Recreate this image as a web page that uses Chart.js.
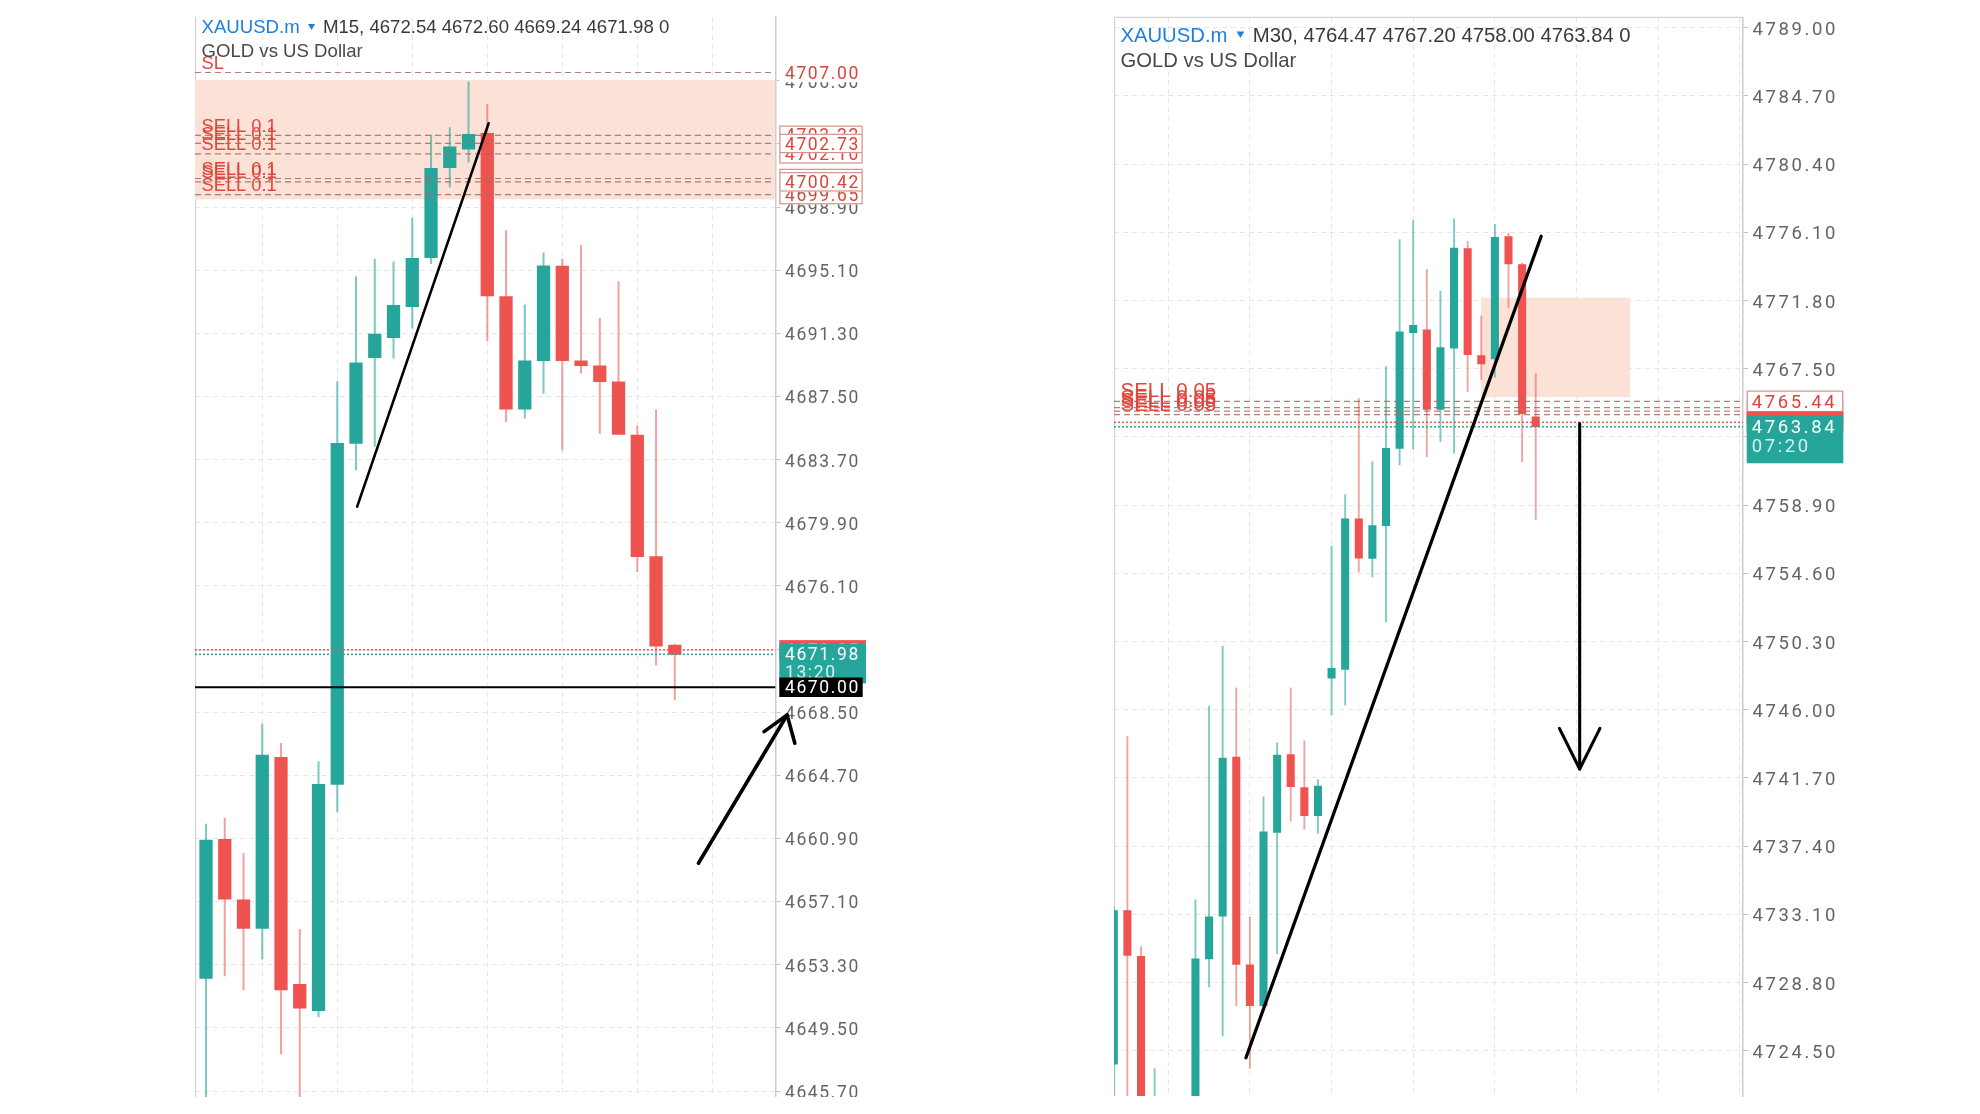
<!DOCTYPE html>
<html lang="en">
<head>
<meta charset="utf-8">
<title>XAUUSD.m M15 / M30</title>
<script src="https://cdn.jsdelivr.net/npm/chart.js@4.4.1/dist/chart.umd.min.js"></script>
<style>
  html, body { margin: 0; padding: 0; background: #ffffff; }
  body { position: relative; width: 1980px; height: 1114px; overflow: hidden; }
  canvas { position: absolute; top: 0; }
  #chartM15 { left: 0; }
  #chartM30 { left: 990px; }
</style>
</head>
<body>
<canvas id="chartM15" width="990" height="1097"></canvas>
<canvas id="chartM30" width="990" height="1097"></canvas>
<script>
// 1. DATA - XAUUSD.m M15 (left panel)
const m15Open  = [4652.48, 4660.85, 4657.20, 4655.49, 4665.78, 4652.12, 4650.53, 4664.16, 4684.68, 4689.83, 4691.04, 4692.90, 4695.85, 4701.27, 4702.39, 4703.34, 4693.51, 4686.73, 4689.65, 4695.35, 4689.64, 4689.35, 4688.39, 4685.18, 4677.86, 4672.54];
const m15High  = [4661.77, 4662.11, 4660.01, 4667.79, 4666.63, 4655.43, 4665.52, 4688.39, 4694.71, 4695.77, 4695.61, 4698.22, 4703.24, 4703.68, 4706.44, 4705.08, 4697.48, 4693.01, 4696.15, 4695.77, 4696.62, 4692.21, 4694.41, 4685.72, 4686.69, 4672.60];
const m15Low   = [4645.00, 4652.62, 4651.78, 4653.63, 4647.93, 4645.20, 4650.17, 4662.51, 4683.08, 4684.50, 4689.80, 4691.60, 4695.50, 4700.10, 4701.60, 4690.86, 4685.98, 4686.19, 4687.69, 4684.28, 4688.90, 4685.28, 4685.22, 4676.96, 4671.34, 4669.24];
const m15Close = [4660.81, 4657.24, 4655.49, 4665.92, 4651.78, 4650.68, 4664.16, 4684.68, 4689.53, 4691.26, 4692.99, 4695.82, 4701.23, 4702.53, 4703.28, 4693.55, 4686.73, 4689.65, 4695.37, 4689.65, 4689.35, 4688.39, 4685.22, 4677.86, 4672.48, 4671.98];
const m15YTicks = [4645.70, 4649.50, 4653.30, 4657.10, 4660.90, 4664.70, 4668.50, 4672.30, 4676.10, 4679.90, 4683.70, 4687.50, 4691.30, 4695.10, 4698.90, 4702.70, 4706.50];
const m15XGrid = [1, 5, 9, 13, 17, 21, 25, 29];
const m15Stop = 4707.00;
const m15Sells = [4703.22, 4702.73, 4702.10, 4700.62, 4700.42, 4699.65];
const m15SellTagOrder = [4703.22, 4702.10, 4702.73, 4700.62, 4699.65, 4700.42];
const m15Zone = [4706.55, 4699.37];
const m15Ask = 4672.25;
const m15Bid = 4671.98;
const m15Level = 4670.00;
const m15Timer = '13:20';
const m15Trend = [[8.06, 4680.87], [15.07, 4703.94]];
const m15ArrowShaft = [[26.26, 4659.41], [30.99, 4668.33]];
// punta de flecha: orden no creciente en x para que Chart.js no recorte puntos
const m15ArrowHead = [[31.40, 4666.63], [30.99, 4668.33], [29.76, 4667.33]];

// 2. DATA - XAUUSD.m M30 (right panel)
const m30Open  = [4723.64, 4733.33, 4730.45, 4712.00, 4719.00, 4714.00, 4718.50, 4730.28, 4732.98, 4743.01, 4729.90, 4727.33, 4738.26, 4743.17, 4741.09, 4739.32, 4747.99, 4748.53, 4758.03, 4755.53, 4757.61, 4762.48, 4769.78, 4769.96, 4764.94, 4768.79, 4775.07, 4768.33, 4768.12, 4775.84, 4774.07, 4764.47];
const m30High  = [4733.60, 4744.30, 4731.06, 4723.37, 4720.50, 4720.00, 4734.01, 4746.23, 4750.01, 4747.37, 4732.94, 4740.50, 4743.91, 4747.37, 4744.03, 4741.59, 4756.32, 4759.56, 4765.61, 4761.64, 4767.63, 4775.64, 4776.85, 4773.76, 4772.40, 4776.95, 4775.53, 4770.83, 4776.61, 4776.05, 4774.17, 4767.20];
const m30Low   = [4721.00, 4718.00, 4715.00, 4710.00, 4712.00, 4711.50, 4717.00, 4728.51, 4725.42, 4727.33, 4723.37, 4727.00, 4730.61, 4738.98, 4738.47, 4738.19, 4745.66, 4746.29, 4754.68, 4754.37, 4751.54, 4761.44, 4762.44, 4761.96, 4762.90, 4762.17, 4766.07, 4766.82, 4766.97, 4771.35, 4761.64, 4758.00];
const m30Close = [4733.33, 4730.50, 4717.00, 4719.00, 4714.00, 4718.50, 4730.28, 4732.94, 4742.95, 4729.93, 4727.33, 4738.30, 4743.13, 4741.14, 4739.32, 4741.18, 4748.60, 4758.03, 4755.55, 4757.61, 4762.48, 4769.83, 4770.24, 4764.94, 4768.84, 4775.11, 4768.39, 4767.80, 4775.78, 4774.11, 4764.67, 4763.84];
const m30YTicks = [4724.50, 4728.80, 4733.10, 4737.40, 4741.70, 4746.00, 4750.30, 4754.60, 4758.90, 4763.20, 4767.50, 4771.80, 4776.10, 4780.40, 4784.70, 4789.00];
const m30XGrid = [1, 7, 13, 19, 25, 31, 37, 43];
const m30Sells = [4765.44, 4765.05, 4764.82, 4764.60];
const m30SellTagOrder = [4764.60, 4764.82, 4765.05, 4765.44];
const m30Zone = [4771.98, 4765.72];
const m30ZoneX = [26.98, 37.95];
const m30Ask = 4764.12;
const m30Bid = 4763.84;
const m30Timer = '07:20';
const m30Trend = [[9.71, 4724.05], [31.40, 4775.85]];
const m30ArrowShaft = [[34.23, 4764.05], [34.23, 4742.26]];
const m30ArrowHead = [[35.72, 4744.82], [34.23, 4742.26], [32.74, 4744.82]];

const GREEN = '#26a69a';
const RED = '#ef5350';
const GREEN_WICK = 'rgba(38,166,154,0.6)';
const RED_WICK = 'rgba(226,90,86,0.55)';
const LEVEL_RED = '#e0463d';
const SANS = '"Liberation Sans", Arial, sans-serif';
const TEXT_DROP = 2.5; // las cifras del eje quedan un poco por debajo de la linea

function drawText(ctx, str, x, y, font, color, spacing, baseline) {
    ctx.save();
    ctx.font = font;
    ctx.fillStyle = color;
    ctx.letterSpacing = spacing;
    ctx.textAlign = 'left';
    ctx.textBaseline = baseline;
    ctx.fillText(str, x, y);
    ctx.restore();
}

// 3. PLUGIN: marco, etiquetas SELL/SL, precios del eje y cabecera
function overlay(s) {
    return {
        id: 'overlay',
        beforeDraw(chart) {
            chart.ctx.letterSpacing = s.tickSpacing + 'px';
        },
        beforeDatasetsDraw(chart) {
            const { ctx, chartArea: a } = chart;
            ctx.save();
            ctx.strokeStyle = '#d4d4d4';
            ctx.lineWidth = 1.2;
            ctx.beginPath();
            ctx.moveTo(a.left + 0.6, a.bottom);
            ctx.lineTo(a.left + 0.6, a.top);
            if (s.boxTop) ctx.lineTo(a.right, a.top);
            ctx.stroke();
            ctx.restore();
        },
        afterDatasetsDraw(chart) {
            const { ctx, chartArea: a, scales: { y } } = chart;
            const font = `${s.levelSize}px ${SANS}`;
            s.levelTexts.forEach(t => {
                drawText(ctx, t.text, a.left + s.levelDx, y.getPixelForValue(t.v) - s.levelLift, font, LEVEL_RED, '0px', 'alphabetic');
            });
        },
        afterDraw(chart) {
            const { ctx, chartArea: a, scales: { y } } = chart;
            const tagFont = `${s.tickSize}px Roboto, sans-serif`;
            const spacing = s.tickSpacing + 'px';

            s.tags.forEach(t => {
                const yy = y.getPixelForValue(t.v);
                const x0 = a.right + s.tagGap;
                let top = yy - s.tagH / 2, h = s.tagH, w = s.tagW;
                if (t.kind === 'teal') { top = yy - s.tealTop; h = s.tealH; w = s.tealW; }
                if (t.kind === 'ask') { w = s.tealW; }
                const fill = { plain: '#ffffff', outline: '#ffffff', ask: RED, teal: GREEN, black: '#000000' }[t.kind];
                ctx.save();
                ctx.fillStyle = fill;
                ctx.fillRect(x0, top, w, h);
                if (t.kind === 'outline') {
                    ctx.strokeStyle = '#d9908a';
                    ctx.lineWidth = 1.2;
                    ctx.strokeRect(x0 + 0.6, top + 0.6, w - 1.2, h - 1.2);
                }
                ctx.restore();
                const color = (t.kind === 'plain' || t.kind === 'outline') ? '#d8453c' : '#ffffff';
                drawText(ctx, t.v.toFixed(2), x0 + s.tagTextDx, yy + TEXT_DROP * 0.7, tagFont, color, spacing, 'middle');
                if (t.sub) drawText(ctx, t.sub, x0 + s.tagTextDx, yy + s.subDy, tagFont, '#d8f1ed', spacing, 'middle');
            });

            // cabecera
            const hFont = `${s.headSize}px ${SANS}`;
            const hx = a.left + s.headDx;
            drawText(ctx, s.symbol, hx, s.headY1, hFont, '#1f7fe0', '0px', 'alphabetic');
            ctx.save();
            ctx.font = hFont;
            ctx.letterSpacing = '0px';
            const symW = ctx.measureText(s.symbol).width;
            ctx.restore();
            const tx = hx + symW + s.headSize * 0.45;
            const tw = s.headSize * 0.38;
            const ty = s.headY1 - s.headSize * 0.5;
            ctx.save();
            ctx.fillStyle = '#1f7fe0';
            ctx.beginPath();
            ctx.moveTo(tx, ty);
            ctx.lineTo(tx + tw, ty);
            ctx.lineTo(tx + tw / 2, ty + tw * 0.85);
            ctx.closePath();
            ctx.fill();
            ctx.restore();
            drawText(ctx, s.quote, tx + tw + s.headSize * 0.42, s.headY1, hFont, '#3a3a3a', '0px', 'alphabetic');
            drawText(ctx, s.subtitle, hx, s.headY2, hFont, '#4a4a4a', '0px', 'alphabetic');
        }
    };
}

// 4. CONSTRUCCION DE CADA GRAFICO
function buildChart(id, s) {
    const idx = s.open.map((_, i) => i);
    const up = idx.map(i => s.close[i] >= s.open[i]);
    const pts = arr => arr.map(p => ({ x: p[0], y: p[1] }));
    const hLine = (v, color, width, dash, order) => ({
        type: 'line',
        data: [{ x: s.xMin, y: v }, { x: s.xMax, y: v }],
        borderColor: color, borderWidth: width, borderDash: dash,
        pointRadius: 0, order: order, clip: 0
    });
    const pen = (arr, w) => ({
        type: 'line', data: pts(arr), borderColor: '#000', borderWidth: w,
        borderCapStyle: 'round', borderJoinStyle: 'round', pointRadius: 0, order: 0, clip: false
    });

    const datasets = [];
    // zona sombreada
    datasets.push({
        type: 'line',
        data: [{ x: s.zoneX[0], y: s.zone[0] }, { x: s.zoneX[1], y: s.zone[0] }],
        fill: { value: s.zone[1] },
        backgroundColor: '#fce1d6', borderWidth: 0, pointRadius: 0, order: 9, clip: 0
    });
    // mechas
    datasets.push({
        type: 'bar',
        data: idx.map(i => ({ x: i, y: [s.low[i], s.high[i]] })),
        backgroundColor: idx.map(i => up[i] ? GREEN_WICK : RED_WICK),
        barThickness: s.wickW, grouped: false, borderWidth: 0, order: 6, clip: 0
    });
    // cuerpos
    datasets.push({
        type: 'bar',
        data: idx.map(i => ({ x: i, y: [s.open[i], s.close[i]] })),
        backgroundColor: idx.map(i => up[i] ? GREEN : RED),
        barThickness: s.bodyW, minBarLength: 2, grouped: false, borderWidth: 0, order: 5, clip: 0
    });
    s.levels.forEach(v => datasets.push(hLine(v, 'rgba(165,105,100,0.85)', 1.2, [6, 4], 3)));
    datasets.push(hLine(s.ask, RED, 1.5, [2, 2], 2));
    datasets.push(hLine(s.bid, GREEN, 1.5, [2, 2], 2));
    if (s.level !== null) datasets.push(hLine(s.level, '#000000', 2, [], 1));
    datasets.push(pen(s.trend, s.trendW));
    datasets.push(pen(s.shaft, s.arrowW));
    datasets.push(pen(s.head, s.arrowW));

    return new Chart(document.getElementById(id), {
        type: 'bar',
        data: { datasets },
        options: {
            responsive: false,
            animation: false,
            devicePixelRatio: 1,
            layout: { padding: s.pad },
            plugins: { legend: { display: false }, tooltip: { enabled: false } },
            scales: {
                x: {
                    type: 'linear', min: s.xMin, max: s.xMax, offset: false,
                    afterBuildTicks: sc => { sc.ticks = s.xGrid.map(v => ({ value: v })); },
                    afterFit: sc => { sc.height = 0; sc.paddingLeft = 0; sc.paddingRight = 0; },
                    ticks: { display: false },
                    grid: { color: '#e6e6e6', lineWidth: 1, drawTicks: false },
                    border: { display: false, dash: [5, 4] }
                },
                y: {
                    type: 'linear', position: 'right', min: s.yMin, max: s.yMax,
                    afterBuildTicks: sc => { sc.ticks = s.yTicks.map(v => ({ value: v })); },
                    afterFit: sc => { sc.width = s.axisW; sc.paddingTop = 0; sc.paddingBottom = 0; },
                    ticks: {
                        autoSkip: false, padding: 4.5, color: '#646464', labelOffset: TEXT_DROP,
                        font: { family: 'Roboto', size: s.tickSize },
                        callback: v => Number(v).toFixed(2)
                    },
                    grid: { color: '#e6e6e6', lineWidth: 1, tickLength: 5, tickColor: '#c4c4c4', tickBorderDash: [] },
                    border: { display: true, color: '#cccccc', width: 1.5, dash: [5, 4] }
                }
            }
        },
        plugins: [overlay(s)]
    });
}

document.addEventListener('DOMContentLoaded', () => {
    buildChart('chartM15', {
        open: m15Open, high: m15High, low: m15Low, close: m15Close,
        yTicks: m15YTicks, xGrid: m15XGrid,
        xMin: -0.587, xMax: 30.37, yMin: 4645.34, yMax: 4710.34,
        pad: { left: 195, top: 17, right: 114.5, bottom: 0 }, axisW: 100,
        zone: m15Zone, zoneX: [-0.587, 30.37],
        levels: [m15Stop].concat(m15Sells),
        ask: m15Ask, bid: m15Bid, level: m15Level,
        trend: m15Trend, shaft: m15ArrowShaft, head: m15ArrowHead, trendW: 2.6, arrowW: 3.6,
        bodyW: 12.6, wickW: 1.4,
        tickSize: 17.5, tickSpacing: 1.6,
        tags: [{ v: m15Stop, kind: 'plain' }]
            .concat(m15SellTagOrder.map(v => ({ v, kind: 'outline' })))
            .concat([{ v: m15Ask, kind: 'ask' }, { v: m15Bid, kind: 'teal', sub: m15Timer }, { v: m15Level, kind: 'black' }]),
        tagGap: 3.8, tagW: 83.4, tagH: 19.5, tealTop: 11, tealH: 40, tealW: 86.7, tagTextDx: 5.7, subDy: 19.5,
        levelTexts: [{ v: m15Stop, text: 'SL' }].concat(m15Sells.map(v => ({ v, text: 'SELL 0.1' }))),
        levelSize: 18.3, levelDx: 6.5, levelLift: 3.5,
        boxTop: false,
        symbol: 'XAUUSD.m', quote: 'M15, 4672.54 4672.60 4669.24 4671.98 0', subtitle: 'GOLD vs US Dollar',
        headSize: 18.6, headDx: 6.5, headY1: 33.3, headY2: 57.3
    });

    buildChart('chartM30', {
        open: m30Open, high: m30High, low: m30Low, close: m30Close,
        yTicks: m30YTicks, xGrid: m30XGrid,
        xMin: 0.015, xMax: 46.23, yMin: 4721.635, yMax: 4789.662,
        pad: { left: 124, top: 17.3, right: 127, bottom: 1 }, axisW: 110,
        zone: m30Zone, zoneX: m30ZoneX,
        levels: m30Sells,
        ask: m30Ask, bid: m30Bid, level: null,
        trend: m30Trend, shaft: m30ArrowShaft, head: m30ArrowHead, trendW: 3.3, arrowW: 3.1,
        bodyW: 7.4, wickW: 1.2,
        tickSize: 18.5, tickSpacing: 2.6,
        tags: m30SellTagOrder.map(v => ({ v, kind: 'outline' }))
            .concat([{ v: m30Ask, kind: 'ask' }, { v: m30Bid, kind: 'teal', sub: m30Timer }]),
        tagGap: 3.7, tagW: 96.6, tagH: 21.7, tealTop: 11.1, tealH: 47.6, tealW: 96.6, tagTextDx: 5, subDy: 20.5,
        levelTexts: m30Sells.map(v => ({ v, text: 'SELL 0.05' })),
        levelSize: 20.5, levelDx: 6.5, levelLift: 4,
        boxTop: true,
        symbol: 'XAUUSD.m', quote: 'M30, 4764.47 4767.20 4758.00 4763.84 0', subtitle: 'GOLD vs US Dollar',
        headSize: 20.3, headDx: 6.4, headY1: 41.7, headY2: 66.7
    });
});
</script>
</body>
</html>
